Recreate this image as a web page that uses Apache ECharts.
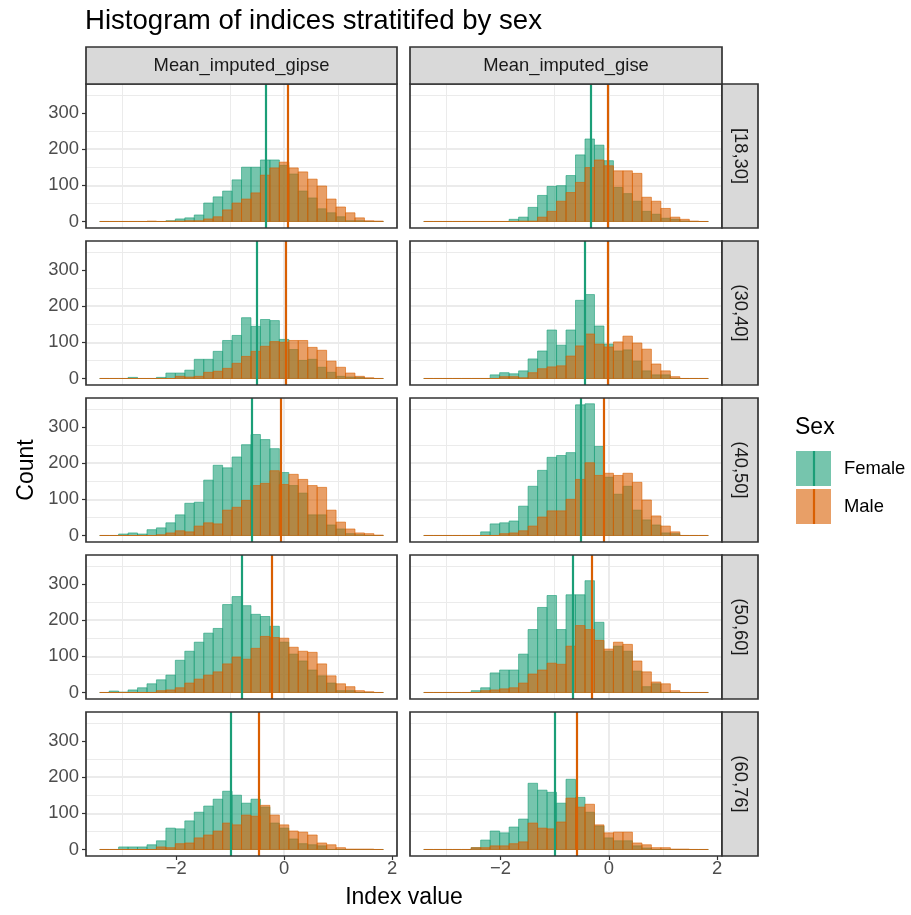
<!DOCTYPE html>
<html>
<head>
<meta charset="utf-8">
<script src="https://cdn.jsdelivr.net/npm/echarts@6/dist/echarts.min.js"></script>
<style>
html, body { margin: 0; padding: 0; background: #fff; }
#chart { width: 911px; height: 915px; }
</style>
</head>
<body>
<div id="chart"></div>
<script>
// facets
var ageGroups = ['[18,30]', '(30,40]', '(40,50]', '(50,60]', '(60,76]'];
var indexNames = ['Mean_imputed_gipse', 'Mean_imputed_gise'];

// 30 bins shared by all panels
var binStart = -3.416;
var binWidth = 0.1751;
var xTicks = [-2, 0, 2];
var yTicks = [0, 100, 200, 300];

// counts per bin, Mean_imputed_gipse
var femaleGipse18 = [0,0,0,0,0,0,0,2,7,10,18,51,68,84,115,150,150,170,170,155,131,84,65,35,24,13,2,2,0,0];
var maleGipse18   = [0,0,0,0,0,1,0,1,1,2,2,7,13,32,51,62,79,128,148,164,148,137,117,98,62,40,24,10,2,1];
var femaleGipse30 = [0,0,0,3,0,0,3,15,15,23,53,53,75,105,119,168,144,163,160,108,80,50,53,31,17,6,4,3,0,0];
var maleGipse30   = [0,0,0,0,0,0,0,0,6,4,6,17,20,28,42,61,75,89,102,100,105,105,86,78,48,31,15,6,2,0];
var femaleGipse40 = [0,0,4,7,4,16,21,35,57,89,92,153,194,187,217,251,279,265,240,174,138,117,57,57,29,18,5,2,0,0];
var maleGipse40   = [0,0,0,0,0,0,2,7,13,10,26,35,32,70,78,97,138,144,179,141,169,155,138,133,70,37,18,7,5,1];
var femaleGipse50 = [0,4,1,7,13,24,35,48,89,114,139,164,177,243,265,240,216,210,183,139,106,87,62,46,26,5,5,0,0,0];
var maleGipse50   = [0,0,0,0,0,0,5,7,13,26,37,48,57,79,98,92,122,155,152,150,125,114,111,79,46,24,16,5,2,0];
var femaleGipse60 = [0,0,7,7,7,13,24,59,57,79,103,120,139,161,150,128,139,117,73,59,29,16,13,10,0,0,0,0,0,0];
var maleGipse60   = [0,0,0,0,0,0,7,5,16,18,32,40,51,73,68,95,92,122,95,68,51,48,40,18,13,5,1,1,1,0];

// counts per bin, Mean_imputed_gise
var femaleGise18 = [0,0,0,0,0,0,0,0,0,6,12,39,72,97,99,127,184,228,211,168,94,77,56,28,20,9,6,1,0,0];
var maleGise18   = [0,0,0,0,0,0,0,0,0,0,1,1,12,28,56,80,108,149,170,154,140,140,133,67,56,36,12,6,1,0];
var femaleGise30 = [0,0,0,0,0,0,0,10,16,13,21,54,76,134,92,134,216,232,145,95,76,79,48,21,10,10,0,0,0,0];
var maleGise30   = [0,0,0,0,0,0,0,0,5,5,2,16,27,32,35,62,90,123,95,87,101,117,98,81,40,21,5,0,0,0];
var femaleGise40 = [0,0,0,0,0,0,10,32,35,40,81,136,180,216,221,229,361,364,246,161,114,136,70,43,29,7,5,0,0,0];
var maleGise40   = [0,0,0,0,0,0,0,0,5,7,13,26,51,68,68,100,155,201,166,172,166,172,147,98,54,26,10,0,0,0];
var femaleGise50 = [0,0,0,0,0,5,13,54,62,62,106,174,235,268,174,270,270,309,194,114,128,114,59,16,24,0,0,0,0,0];
var maleGise50   = [0,0,0,0,0,0,5,7,10,13,26,51,62,81,78,128,185,174,144,120,139,133,87,57,29,24,5,0,0,0];
var femaleGise60 = [0,0,0,0,0,5,26,51,46,62,84,183,164,158,128,194,144,103,65,32,24,24,10,4,0,0,0,0,0,0];
var maleGise60   = [0,0,0,0,0,5,5,10,10,16,21,73,59,57,76,142,117,125,68,46,48,48,18,13,5,5,1,1,0,0];

// group means (vertical lines)
var femaleMeanGipse = [-0.34, -0.50, -0.60, -0.79, -0.98];
var maleMeanGipse   = [0.06, 0.03, -0.06, -0.23, -0.47];
var femaleMeanGise  = [-0.33, -0.45, -0.52, -0.66, -1.00];
var maleMeanGise    = [-0.02, -0.02, -0.10, -0.31, -0.59];

var femaleCounts = [
    [femaleGipse18, femaleGise18],
    [femaleGipse30, femaleGise30],
    [femaleGipse40, femaleGise40],
    [femaleGipse50, femaleGise50],
    [femaleGipse60, femaleGise60]
];
var maleCounts = [
    [maleGipse18, maleGise18],
    [maleGipse30, maleGise30],
    [maleGipse40, maleGise40],
    [maleGipse50, maleGise50],
    [maleGipse60, maleGise60]
];
var femaleMeans = [femaleMeanGipse, femaleMeanGise];
var maleMeans = [maleMeanGipse, maleMeanGise];

var teal = '#1b9e77';
var orange = '#d95f02';
var tealFill = 'rgba(27,158,119,0.6)';
var orangeFill = 'rgba(217,95,2,0.6)';
var font = '"Liberation Sans", Arial, Helvetica, sans-serif';

// panel layout
var colLeft = [86, 410];
var colWidth = [311, 312];
var rowTop = [84, 241, 398, 555, 712];
var panelH = 144;

function toBins(counts) {
    return counts.map(function (n, k) {
        return [binStart + k * binWidth, binStart + (k + 1) * binWidth, n];
    });
}

function barRenderer(fill, stroke) {
    return function (params, api) {
        var a = api.coord([api.value(0), 0]);
        var b = api.coord([api.value(1), api.value(2)]);
        return {
            type: 'rect',
            shape: { x: a[0], y: b[1], width: b[0] - a[0], height: a[1] - b[1] },
            style: { fill: fill, stroke: stroke, lineWidth: 0.6 }
        };
    };
}

function minusFmt(v) {
    return v < 0 ? '\u2212' + (-v) : String(v);
}

var grids = [], xAxes = [], yAxes = [], series = [], graphics = [];

for (var r = 0; r < ageGroups.length; r++) {
    for (var c = 0; c < 2; c++) {
        var i = r * 2 + c;
        var bottom = r === ageGroups.length - 1;
        var left = c === 0;
        grids.push({ left: colLeft[c], top: rowTop[r], width: colWidth[c], height: panelH, show: false });
        xAxes.push({
            type: 'value', gridIndex: i, min: -3.67, max: 2.09, splitNumber: 3, position: 'bottom',
            axisLine: { show: false, onZero: false },
            axisTick: { show: bottom, customValues: xTicks, length: 4, lineStyle: { color: '#333', width: 1.2 } },
            axisLabel: { show: bottom, customValues: xTicks, formatter: minusFmt, color: '#4d4d4d', fontSize: 18.4, fontFamily: font, margin: 4 },
            splitLine: { show: true, showMinLine: false, showMaxLine: false, lineStyle: { color: '#ebebeb', width: 2 } },
            minorTick: { show: false, splitNumber: 2 },
            minorSplitLine: { show: true, lineStyle: { color: '#ebebeb', width: 1 } }
        });
        yAxes.push({
            type: 'value', gridIndex: i, min: -18, max: 380, splitNumber: 4, position: 'left',
            axisLine: { show: false, onZero: false },
            axisTick: { show: left, customValues: yTicks, length: 4, lineStyle: { color: '#333', width: 1.2 } },
            axisLabel: { show: left, customValues: yTicks, color: '#4d4d4d', fontSize: 18.4, fontFamily: font, margin: 7 },
            splitLine: { show: true, showMinLine: false, showMaxLine: false, lineStyle: { color: '#ebebeb', width: 2 } },
            minorTick: { show: false, splitNumber: 2 },
            minorSplitLine: { show: true, lineStyle: { color: '#ebebeb', width: 1 } }
        });
        series.push({
            name: 'Female', type: 'custom', xAxisIndex: i, yAxisIndex: i, z: 2,
            renderItem: barRenderer(tealFill, teal),
            encode: { x: [0, 1], y: 2 },
            data: toBins(femaleCounts[r][c]),
            animation: false
        });
        series.push({
            name: 'Male', type: 'custom', xAxisIndex: i, yAxisIndex: i, z: 3,
            renderItem: barRenderer(orangeFill, orange),
            encode: { x: [0, 1], y: 2 },
            data: toBins(maleCounts[r][c]),
            animation: false,
            markLine: {
                silent: true, symbol: ['none', 'none'], animation: false,
                label: { show: false },
                data: [
                    { xAxis: femaleMeans[c][r], lineStyle: { color: teal, width: 2.2, type: 'solid' } },
                    { xAxis: maleMeans[c][r], lineStyle: { color: orange, width: 2.2, type: 'solid' } }
                ]
            }
        });
        // panel border
        graphics.push({
            type: 'rect', z: 100,
            shape: { x: colLeft[c], y: rowTop[r], width: colWidth[c], height: panelH },
            style: { fill: 'none', stroke: '#333', lineWidth: 1.7 }
        });
    }
    // right strip
    graphics.push({
        type: 'rect', z: 100,
        shape: { x: 722, y: rowTop[r], width: 36, height: panelH },
        style: { fill: '#d9d9d9', stroke: '#333', lineWidth: 1.7 }
    });
    graphics.push({
        type: 'text', z: 101, x: 740, y: rowTop[r] + panelH / 2, rotation: -Math.PI / 2,
        style: { text: ageGroups[r], fill: '#1a1a1a', fontSize: 18.4, fontFamily: font, align: 'center', verticalAlign: 'middle' }
    });
}

// top strips
for (var c2 = 0; c2 < 2; c2++) {
    graphics.push({
        type: 'rect', z: 100,
        shape: { x: colLeft[c2], y: 47, width: colWidth[c2], height: 37 },
        style: { fill: '#d9d9d9', stroke: '#333', lineWidth: 1.7 }
    });
    graphics.push({
        type: 'text', z: 101, x: colLeft[c2] + colWidth[c2] / 2, y: 65.5,
        style: { text: indexNames[c2], fill: '#1a1a1a', fontSize: 18.4, fontFamily: font, align: 'center', verticalAlign: 'middle' }
    });
}

// titles
graphics.push({
    type: 'text', z: 101, x: 85, y: 21,
    style: { text: 'Histogram of indices stratitifed by sex', fill: '#000', fontSize: 27.6, fontFamily: font, align: 'left', verticalAlign: 'middle' }
});
graphics.push({
    type: 'text', z: 101, x: 404, y: 898,
    style: { text: 'Index value', fill: '#000', fontSize: 23, fontFamily: font, align: 'center', verticalAlign: 'middle' }
});
graphics.push({
    type: 'text', z: 101, x: 27, y: 470, rotation: Math.PI / 2,
    style: { text: 'Count', fill: '#000', fontSize: 23, fontFamily: font, align: 'center', verticalAlign: 'middle' }
});

// legend
graphics.push({
    type: 'text', z: 101, x: 795, y: 428,
    style: { text: 'Sex', fill: '#000', fontSize: 23, fontFamily: font, align: 'left', verticalAlign: 'middle' }
});
var legendItems = [
    { label: 'Female', fill: tealFill, line: teal, y: 451 },
    { label: 'Male', fill: orangeFill, line: orange, y: 489 }
];
legendItems.forEach(function (it) {
    graphics.push({
        type: 'rect', z: 100,
        shape: { x: 796, y: it.y, width: 35, height: 35 },
        style: { fill: it.fill }
    });
    graphics.push({
        type: 'line', z: 101,
        shape: { x1: 814, y1: it.y, x2: 814, y2: it.y + 35 },
        style: { stroke: it.line, lineWidth: 2.2 }
    });
    graphics.push({
        type: 'text', z: 101, x: 844, y: it.y + 17.5,
        style: { text: it.label, fill: '#000', fontSize: 18.4, fontFamily: font, align: 'left', verticalAlign: 'middle' }
    });
});

var myChart = echarts.init(document.getElementById('chart'));
myChart.setOption({
    animation: false,
    backgroundColor: '#fff',
    grid: grids,
    xAxis: xAxes,
    yAxis: yAxes,
    series: series,
    graphic: graphics
});
</script>
</body>
</html>
